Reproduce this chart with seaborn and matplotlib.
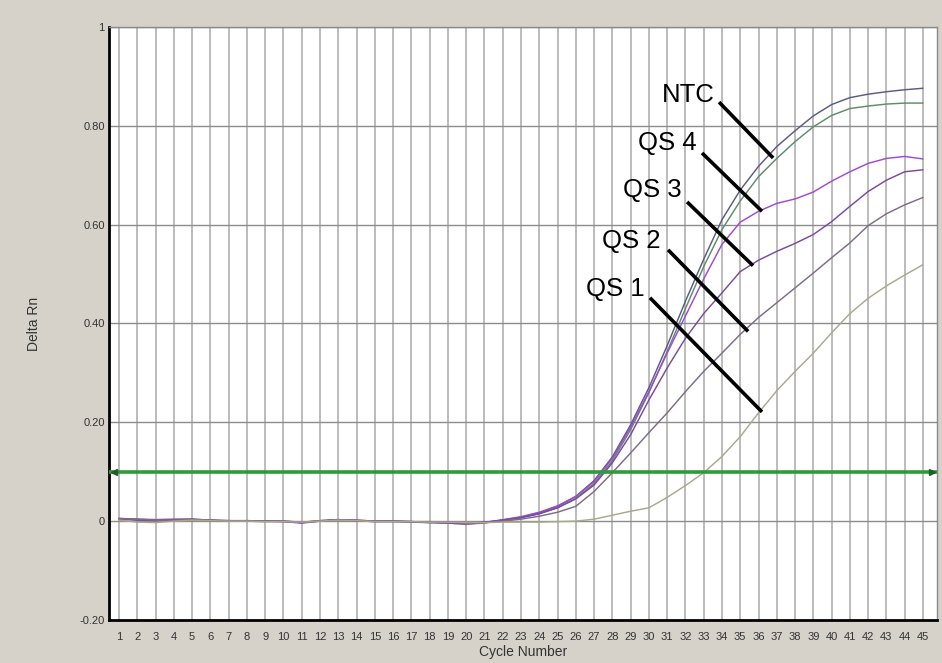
import matplotlib
matplotlib.use("Agg")
import matplotlib.pyplot as plt
import seaborn as sns
import pandas as pd

# ---------------- data ----------------
cycles = list(range(1, 46))

curve_a = [0.005, 0.004, 0.003, 0.003, 0.004, 0.002, 0.001, 0.001, 0.000, 0.000,
           -0.003, 0.000, 0.003, 0.002, 0.000, 0.000, -0.001, -0.002, -0.003, -0.005,
           -0.003, 0.002, 0.008, 0.017, 0.030, 0.050, 0.082, 0.130, 0.195, 0.270,
           0.355, 0.445, 0.530, 0.610, 0.670, 0.718, 0.758, 0.790, 0.820, 0.843,
           0.857, 0.864, 0.869, 0.873, 0.876]
curve_b = [0.004, 0.003, 0.002, 0.002, 0.003, 0.001, 0.000, 0.000, -0.001, 0.000,
           -0.002, 0.001, 0.003, 0.001, -0.001, -0.001, -0.002, -0.003, -0.004, -0.006,
           -0.004, 0.002, 0.007, 0.015, 0.027, 0.046, 0.076, 0.122, 0.185, 0.260,
           0.343, 0.430, 0.515, 0.590, 0.648, 0.697, 0.734, 0.768, 0.798, 0.821,
           0.835, 0.840, 0.844, 0.846, 0.846]
curve_c = [0.006, 0.003, 0.003, 0.004, 0.003, 0.001, 0.001, 0.000, 0.000, -0.001,
           -0.004, 0.000, 0.002, 0.002, 0.000, -0.001, -0.001, -0.002, -0.004, -0.006,
           -0.003, 0.003, 0.009, 0.018, 0.031, 0.050, 0.080, 0.127, 0.190, 0.262,
           0.340, 0.415, 0.490, 0.560, 0.605, 0.627, 0.643, 0.652, 0.666, 0.688,
           0.707, 0.724, 0.734, 0.738, 0.733]
curve_d = [0.004, 0.002, 0.001, 0.003, 0.004, 0.002, 0.000, 0.001, 0.000, -0.001,
           -0.003, 0.001, 0.003, 0.001, -0.001, 0.000, -0.001, -0.003, -0.003, -0.005,
           -0.002, 0.002, 0.007, 0.015, 0.027, 0.045, 0.073, 0.118, 0.175, 0.245,
           0.310, 0.370, 0.420, 0.462, 0.505, 0.528, 0.546, 0.562, 0.580, 0.606,
           0.637, 0.667, 0.690, 0.707, 0.711]
curve_e = [0.005, 0.004, 0.002, 0.002, 0.003, 0.002, 0.001, 0.000, 0.000, 0.000,
           -0.002, 0.000, 0.002, 0.001, 0.000, 0.000, -0.001, -0.001, -0.002, -0.004,
           -0.003, 0.000, 0.004, 0.010, 0.018, 0.030, 0.060, 0.098, 0.138, 0.179,
           0.219, 0.262, 0.303, 0.340, 0.378, 0.412, 0.442, 0.472, 0.502, 0.533,
           0.563, 0.598, 0.622, 0.640, 0.655]
curve_f = [0.002, -0.002, -0.003, 0.000, 0.002, 0.001, 0.000, 0.000, -0.001, -0.001,
           -0.002, 0.000, 0.002, 0.001, -0.001, -0.001, -0.001, -0.002, -0.002, -0.003,
           -0.003, -0.002, -0.002, -0.002, -0.001, 0.000, 0.004, 0.012, 0.020, 0.027,
           0.048, 0.072, 0.098, 0.131, 0.171, 0.219, 0.264, 0.303, 0.340, 0.381,
           0.420, 0.451, 0.476, 0.498, 0.519]

series_names = ["A", "B", "C", "D", "E", "F"]
series_values = [curve_a, curve_b, curve_c, curve_d, curve_e, curve_f]
series_colors = ["#5b5b86", "#5e8c6a", "#a04ad0", "#7a4a9c", "#7d6d88", "#aaa98a"]

threshold = 0.10

y_ticks = [-0.2, 0.0, 0.2, 0.4, 0.6, 0.8, 1.0]
y_tick_labels = ["-0.20", "0", "0.20", "0.40", "0.60", "0.80", "1"]

# annotation labels: (text, text position, line start, line end) in data units
labels = ["NTC", "QS 4", "QS 3", "QS 2", "QS 1"]
label_pos = [(32.14, 0.862), (31.0, 0.765), (30.17, 0.670), (29.02, 0.567), (28.15, 0.470)]
line_start = [(33.84, 0.848), (32.91, 0.745), (32.09, 0.646), (31.05, 0.549), (30.06, 0.452)]
line_end = [(36.80, 0.735), (36.19, 0.627), (35.70, 0.517), (35.43, 0.384), (36.19, 0.221)]

# ---------------- plot ----------------
sns.set_theme(style="white")
plt.rcParams["font.family"] = ["Liberation Sans", "DejaVu Sans"]

rows = []
for name, vals in zip(series_names, series_values):
    for c, v in zip(cycles, vals):
        rows.append({"cycle": c, "value": v, "series": name})
df = pd.DataFrame(rows)

bg = "#d6d2ca"
fig = plt.figure(figsize=(9.42, 6.63), dpi=100, facecolor=bg)
ax = fig.add_axes([0.1157, 0.0649, 0.8790, 0.8944])
ax.set_facecolor("white")

# grid
for c in cycles:
    ax.axvline(c, color="#a9a9a9", lw=1.1, zorder=0)
for yv in y_ticks:
    ax.axhline(yv, color="#8c8c8c", lw=1.0, zorder=0)

sns.lineplot(data=df, x="cycle", y="value", hue="series",
             palette=dict(zip(series_names, series_colors)),
             hue_order=series_names, lw=1.05, legend=False, ax=ax, zorder=3)

# threshold
ax.axhline(threshold, color="#2f9a3a", lw=2.6, zorder=4)
tr = ax.get_yaxis_transform()
ax.plot([0.006], [threshold], marker="<", ms=5, color="#1f5f28", transform=tr,
        clip_on=False, zorder=5)
ax.plot([0.994], [threshold], marker=">", ms=5, color="#1f5f28", transform=tr,
        clip_on=False, zorder=5)

# annotations
for t, p, s, e in zip(labels, label_pos, line_start, line_end):
    ax.text(p[0], p[1], t, fontsize=18.5, ha="center", va="center", color="black", zorder=6)
    ax.plot([s[0], e[0]], [s[1], e[1]], color="black", lw=2.6, solid_capstyle="butt", zorder=6)

ax.set_xlim(0.45, 45.77)
ax.set_ylim(-0.2, 1.0)
ax.set_xticks(cycles)
ax.set_xticklabels([str(c) for c in cycles])
ax.set_yticks(y_ticks)
ax.set_yticklabels(y_tick_labels)
ax.tick_params(axis="both", length=0, labelsize=8, labelcolor="#333333")
ax.tick_params(axis="x", pad=9)
ax.tick_params(axis="y", pad=3)

ax.set_xlabel("Cycle Number", fontsize=10, color="#333333", labelpad=2)
ax.set_ylabel("Delta Rn", fontsize=10, color="#333333", labelpad=28)

for side in ["left", "bottom"]:
    ax.spines[side].set_color("black")
    ax.spines[side].set_linewidth(2.0)
for side in ["top", "right"]:
    ax.spines[side].set_color("#8a8a8a")
    ax.spines[side].set_linewidth(1.0)

fig.savefig("out.png", dpi=100, facecolor=bg)
